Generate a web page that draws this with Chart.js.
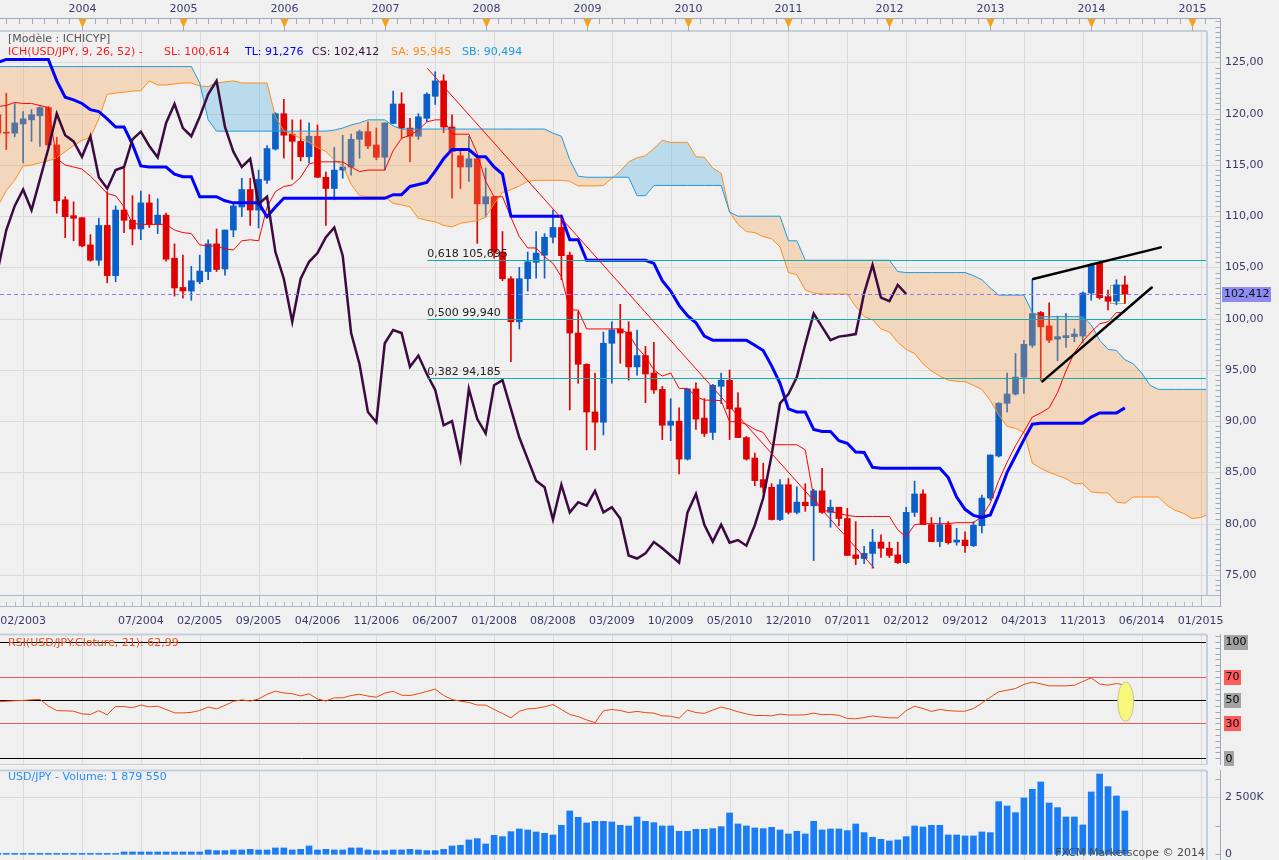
<!DOCTYPE html>
<html>
<head>
<meta charset="utf-8">
<title>USD/JPY - Ichimoku</title>
<script src="https://cdn.jsdelivr.net/npm/chart.js@4.4.1/dist/chart.umd.min.js"></script>
<style>
html,body{margin:0;padding:0;background:#f0f0f0;}
body{width:1279px;height:860px;position:relative;overflow:hidden;}
canvas{position:absolute;left:0;}
</style>
</head>
<body>
<canvas id="main" width="1279" height="630" style="top:0"></canvas>
<canvas id="rsi" width="1279" height="137" style="top:630px"></canvas>
<canvas id="vol" width="1279" height="93" style="top:767px"></canvas>
<script>
// ================= DATA =================
// month index: 0 = Jan 2003, first candle = Feb 2003 (index 1)
const firstMonth = 1;

const openP = [119.9,118.2,118.1,119.0,119.4,119.8,120.6,116.95,111.6,110.05,
109.85,107.2,105.7,109.1,104.2,110.6,109.6,108.75,111.3,109.2,
110.1,105.9,103.05,102.7,103.6,104.6,107.3,104.85,108.65,110.9,
112.6,110.6,113.5,116.55,120.0,118.0,117.3,115.8,117.8,113.8,
112.7,114.5,114.8,117.5,118.25,116.95,115.75,119.05,120.95,118.6,
117.8,119.55,121.7,123.2,118.7,115.9,114.8,115.6,111.2,111.9,
106.5,103.9,99.7,103.9,105.5,106.2,107.95,108.9,106.2,98.6,
95.55,90.9,89.9,97.6,99.0,98.7,95.3,96.4,94.7,93.1,
89.6,90.0,86.3,93.15,90.3,88.9,93.4,94.0,91.3,88.4,
86.4,84.3,83.55,80.4,83.8,81.1,82.1,81.75,83.2,81.1,
81.6,80.5,76.95,76.6,77.1,78.2,77.6,76.95,76.2,81.1,
82.9,79.9,78.25,79.9,78.2,78.4,77.85,79.8,82.5,86.6,
91.75,92.65,94.3,97.4,100.6,99.3,98.0,98.15,98.25,98.3,
102.5,105.4,102.15,101.7,103.3];

const highP = [121.4,122.0,121.0,120.2,120.4,120.7,120.7,117.7,111.9,111.4,
109.9,108.2,109.8,112.4,111.0,114.8,112.0,112.45,112.1,111.7,
110.3,107.3,106.2,105.1,106.2,107.7,108.75,108.65,111.3,113.7,
113.7,114.5,116.9,120.1,121.4,119.4,119.4,119.1,118.9,114.3,
116.7,117.9,118.0,118.4,119.2,118.6,119.1,122.2,122.05,119.55,
120.0,122.05,124.1,123.8,119.9,116.45,117.8,115.9,114.7,111.9,
108.5,104.1,105.0,106.5,108.5,108.3,110.6,110.1,106.5,100.7,
95.6,94.7,98.7,99.7,101.4,99.7,98.9,97.3,97.7,93.4,
92.2,91.3,93.15,93.75,92.2,93.6,94.7,95.0,92.8,88.5,
86.9,85.9,83.9,84.3,84.4,83.6,83.9,83.35,85.4,82.3,
81.6,81.5,80.2,77.8,79.45,78.9,78.2,78.2,81.6,84.15,
83.3,80.6,80.6,80.2,79.55,79.2,80.2,82.8,86.7,91.8,
94.7,96.6,97.9,103.8,100.7,101.55,100.25,100.5,99.0,102.6,
105.4,105.45,102.8,103.8,104.15];

const lowP = [116.7,116.5,117.75,115.2,117.3,116.8,116.8,110.3,107.9,107.6,
107.0,105.6,105.2,103.5,103.6,108.4,107.2,107.7,108.9,108.3,
105.6,102.2,102.0,101.8,103.4,103.8,104.6,104.25,108.0,109.95,
109.1,108.85,113.2,116.45,115.65,113.6,115.4,115.2,113.75,109.1,
111.6,113.7,114.0,115.65,116.6,115.5,114.5,119.0,117.6,115.3,
117.5,119.2,120.9,118.15,111.75,112.7,113.4,107.35,109.95,105.9,
103.7,95.8,99.0,102.7,103.95,103.95,107.4,103.8,91.1,93.7,
87.2,87.2,88.65,93.7,95.65,94.0,94.5,91.8,92.7,88.2,
88.1,84.85,86.2,89.2,88.5,88.2,91.7,88.2,88.4,86.2,
83.7,83.0,80.35,80.3,80.95,80.95,81.2,76.4,81.0,79.65,
79.8,76.9,76.0,76.1,75.65,76.7,76.7,76.1,76.1,80.7,
79.9,78.25,77.75,78.0,77.9,77.2,77.75,79.1,82.3,86.5,
90.9,92.55,92.7,97.2,93.95,97.65,95.9,97.2,97.75,97.65,
101.8,101.9,100.85,101.35,101.5];

const closeP = [118.1,118.1,119.1,119.5,119.9,120.6,116.95,111.5,109.95,109.8,
107.1,105.7,109.1,104.2,110.6,109.6,108.75,111.3,109.2,110.1,
105.8,103.0,102.7,103.7,104.65,107.3,104.8,108.65,111.0,112.6,
110.6,113.6,116.6,120.0,117.9,117.3,115.8,117.8,113.8,112.7,
114.5,114.8,117.5,118.25,116.85,115.75,119.1,120.95,118.6,117.8,
119.7,121.9,123.2,118.7,116.3,114.8,115.6,111.2,111.9,106.5,
103.9,99.7,103.9,105.55,106.4,107.95,108.9,106.15,98.6,95.55,
90.9,89.9,97.6,98.9,98.6,95.3,96.4,94.6,93.05,89.6,
90.0,86.3,93.15,90.2,88.8,93.5,94.0,91.2,88.4,86.3,
84.2,83.55,80.4,83.8,81.1,82.1,81.75,83.2,81.1,81.6,
80.5,76.9,76.6,77.1,78.2,77.6,76.9,76.2,81.1,82.9,
79.9,78.25,79.9,78.15,78.4,77.85,79.85,82.5,86.7,91.75,
92.65,94.3,97.5,100.5,99.2,97.9,98.25,98.35,98.5,102.5,
105.25,102.05,101.7,103.3,102.41];

// Tenkan (red) and Kijun (blue), one value per candle
const tenkan = [120.7,120.8,121.1,121.0,121.0,120.8,120.6,115.6,115.0,114.8,
114.6,113.9,113.1,112.2,112.0,110.9,109.3,109.2,109.2,109.2,
109.2,108.65,108.4,108.3,107.2,107.1,107.1,106.8,106.7,107.6,
107.7,107.6,110.9,112.4,112.9,113.05,113.8,115.1,115.3,115.3,
115.3,115.3,114.8,114.35,114.5,114.5,114.5,116.4,117.6,117.9,
118.4,119.2,119.4,119.4,118.0,118.0,118.0,116.1,113.4,111.9,
111.9,109.9,108.0,106.9,106.9,106.05,105.4,104.1,100.85,100.85,
99.0,99.0,99.0,99.0,99.0,98.5,97.2,96.3,95.0,94.4,
94.7,93.2,93.2,92.4,92.05,92.05,92.0,89.95,89.95,89.7,
89.2,88.9,87.7,87.7,87.7,87.7,87.2,82.6,81.3,81.2,
81.0,80.8,80.7,80.7,80.7,80.7,80.7,79.4,78.7,79.9,
80.0,80.0,80.0,80.0,80.1,80.1,80.1,80.7,82.0,84.2,
86.0,87.6,89.0,90.4,90.8,91.3,92.8,94.9,96.7,97.8,
98.7,99.5,99.7,100.6,100.6];

const kijun = [125.0,125.3,125.3,125.3,125.3,125.3,125.3,123.2,121.6,121.35,
121.0,120.4,120.2,119.5,118.7,118.7,117.0,114.9,114.8,114.8,
114.8,114.1,113.85,113.85,111.9,111.9,111.9,111.5,111.3,111.3,
111.3,111.3,109.95,110.9,111.75,111.75,111.75,111.75,111.75,111.75,
111.75,111.75,111.75,111.75,111.75,111.75,111.75,112.1,112.1,112.9,
113.1,113.3,114.4,115.6,116.5,116.5,116.5,115.8,115.8,114.8,
114.1,110.0,110.0,110.0,110.0,110.0,110.0,110.0,107.7,107.7,
105.7,105.7,105.7,105.7,105.7,105.7,105.7,105.7,105.4,103.7,
102.7,101.3,100.3,99.6,98.3,97.9,97.9,97.9,97.9,97.9,
97.4,96.9,95.4,93.7,91.2,90.9,90.9,89.2,89.0,89.0,
88.1,87.85,87.0,86.95,85.5,85.4,85.4,85.4,85.4,85.4,
85.4,85.4,85.4,84.5,82.6,81.4,80.8,80.6,80.85,82.8,
85.0,86.6,88.2,89.7,89.8,89.8,89.8,89.8,89.8,89.8,
90.4,90.8,90.8,90.8,91.3];

// Senkou spans as plotted (already shifted 26 months ahead), from Feb 2003 to Feb 2015
const senkouA = [111.0,112.5,113.5,114.9,115.0,115.2,115.4,115.7,116.3,116.9,
117.4,117.7,119.5,121.9,122.0,122.1,122.2,122.25,123.2,122.8,
122.8,122.9,123.0,123.0,122.7,122.65,123.0,123.1,123.2,123.0,
123.0,123.0,123.0,119.7,118.35,118.0,117.6,117.2,116.7,116.3,
115.5,114.9,113.1,112.0,111.9,111.9,111.9,111.25,111.1,110.9,
109.8,109.6,109.45,109.1,108.95,109.3,109.45,109.55,109.9,111.2,
112.3,112.6,112.95,113.4,113.5,113.5,113.5,113.5,113.4,112.95,
112.95,112.95,113.0,113.7,114.4,115.3,115.7,115.9,116.6,117.4,
117.2,117.2,117.2,115.8,115.75,114.7,114.2,110.4,109.2,108.5,
108.4,108.0,107.8,107.0,104.5,104.3,102.8,102.5,102.4,102.4,
102.4,102.4,101.2,100.2,99.9,99.0,98.7,97.7,97.0,96.6,
95.6,94.9,94.4,94.0,93.9,93.85,93.5,93.1,92.0,90.6,
89.5,89.3,88.9,85.9,85.4,85.0,84.7,84.4,83.9,83.9,
83.1,83.0,83.0,82.1,82.0,82.6,82.6,82.6,82.6,81.8,
81.3,81.0,80.5,80.6,80.9];

const senkouB = [124.6,124.6,124.6,124.6,124.6,124.6,124.6,124.6,124.6,124.6,
124.6,124.6,124.6,124.6,124.6,124.6,124.6,124.6,124.6,124.6,
124.6,124.6,124.6,124.6,123.0,119.4,118.3,118.3,118.3,118.3,
118.3,118.3,118.3,118.3,118.3,118.3,118.3,118.3,118.3,118.3,
118.4,118.6,118.9,119.1,119.4,119.4,119.4,118.8,118.5,118.5,
118.5,118.5,118.5,118.5,118.5,118.5,118.5,118.5,118.5,118.5,
118.5,118.5,118.5,118.5,118.5,118.5,118.1,117.8,115.5,113.9,
113.8,113.8,113.8,113.8,113.8,113.8,112.0,112.0,113.0,113.0,
113.0,113.0,113.0,113.0,113.0,113.0,113.0,110.4,110.0,110.0,
110.0,110.0,110.0,110.0,107.6,107.6,105.7,105.7,105.7,105.7,
105.7,105.7,105.7,105.7,105.7,105.7,105.7,104.6,104.5,104.5,
104.5,104.5,104.5,104.5,104.5,104.5,104.2,103.8,103.0,102.3,
102.3,102.3,102.3,100.6,100.2,100.2,100.2,100.2,100.2,100.2,
99.4,97.9,97.0,96.9,96.0,95.6,94.7,93.5,93.1,93.1,
93.1,93.1,93.1,93.1,93.1];

const chikouShift = 26;

// RSI(21) per candle
const rsi = [48.6,49,49.5,49.7,50.3,50.6,45,41,40.8,40.5,
38.2,37.7,41,37.4,44.6,44.5,43.5,45.7,44.3,44.8,
42,39.1,39,39.5,41.1,44,42.5,45.5,49,50.2,
49.2,51,55,57.7,56.2,55.5,53.6,55.4,51,49.3,
52,52,54,55,53.5,52.5,56,57.6,54.3,54,
55.5,57.5,59.5,54,50.5,49.1,48,45.8,45.7,42,
38.5,34.8,40.5,42.5,43,44.3,46.2,42,37.7,35.8,
33,30.6,40.8,42,41.1,39.3,40.3,39.3,38.8,36.5,
36.2,34.5,41.5,39.3,38.6,41.5,44,42.3,40,38.2,
36.8,36.8,36.5,38,37.2,37.2,37.4,38.8,37.5,37.7,
37,34.2,34,35,36.4,35.5,34.8,34.8,41,44.8,
42.8,40.3,42,41,40.5,40.5,42.8,47.5,52.5,57.2,
58.5,60,63.5,65.5,64,62.3,62.3,62.3,62.8,66,
69.2,63.8,62.9,64.3,63];

// Volume in thousands per candle
const volumeK = [40,40,40,40,40,40,40,40,40,40,
40,40,40,40,40,102,102,102,102,102,
102,102,102,102,102,190,161,161,190,190,
219,190,190,278,278,190,219,365,190,219,
190,190,278,278,190,161,161,190,190,219,
190,161,161,219,365,395,629,687,453,833,
775,994,1111,1067,980,921,848,1272,1901,1623,
1374,1447,1447,1418,1272,1243,1637,1447,1389,1243,
1243,1009,1009,1096,1096,1126,1213,1813,1330,1243,
1155,1126,1184,1067,892,1009,892,1447,1067,1111,
1111,1038,1330,950,746,658,585,629,775,1243,
1199,1272,1272,848,848,805,805,980,950,2310,
2120,1827,2471,2851,3173,2251,2047,1637,1637,1287,
2734,3523,2968,2558,1901];

// axis tick labels
const gridMonths = [4,11,18,25,32,39,46,53,60,67,74,81,88,95,102,109,116,123,130,137,144];
const bottomTickMonths = [4,18,25,32,39,46,53,60,67,74,81,88,95,102,109,116,123,130,137,144];
const bottomTickLabels = ['02/2003','07/2004','02/2005','09/2005','04/2006','11/2006','06/2007','01/2008','08/2008','03/2009','10/2009','05/2010','12/2010','07/2011','02/2012','09/2012','04/2013','11/2013','06/2014','01/2015'];
const yearMonths = [11,23,35,47,59,71,83,95,107,119,131,143];
const yearLabels = ['2004','2005','2006','2007','2008','2009','2010','2011','2012','2013','2014','2015'];
const priceTicks = [75,80,85,90,95,100,105,110,115,120,125];
const priceTickLabels = ['75,00','80,00','85,00','90,00','95,00','100,00','105,00','110,00','115,00','120,00','125,00'];

// drawings on the price chart
const fibStartMonth = 52.06;
const fibLevels = [105.695, 99.94, 94.185];
const fibNames = ['0,618 105,695', '0,500 99,940', '0,382 94,185'];
const currentPrice = 102.412;
const currentPriceLabel = '102,412';
const diagLine = [52.06, 124.43, 105.2, 75.65];
const trendLines = [[124.1, 103.87, 139.27, 106.96], [125.2, 93.88, 138.2, 103.04]];
const selectionBox = [133.2, 135.0, 103.3, 101.55];
const rsiLevels = [100, 70, 50, 30, 0];
const rsiMark = [135.1, 48.7, 0.95, 17];

// ================= LAYOUT / STYLE =================
const X_MIN = 1.25, X_MAX = 144.65;
const AXIS_X = 1220.5, FRAME_X = 1207;
const FONT = '11px "DejaVu Sans", Verdana, sans-serif';
const AXIS_TXT = '#3a3a6e';
const FRAME = '#c5cedb', AXIS_LINE = '#a0a9b8';
const UP = '#0a5fc8', DOWN = '#e00000';

function seg(ctx, x1, y1, x2, y2) { ctx.beginPath(); ctx.moveTo(x1, y1); ctx.lineTo(x2, y2); ctx.stroke(); }
const mIdx = k => firstMonth + k;

const common = {
  responsive: false,
  animation: false,
  events: [],
  plugins: { legend: { display: false }, tooltip: { enabled: false } }
};

function drawVGrid(chart, top) {
  const { ctx, chartArea: a, scales: { x: xs } } = chart;
  ctx.strokeStyle = '#dadada'; ctx.lineWidth = 1;
  gridMonths.forEach(m => { const x = Math.round(xs.getPixelForValue(m)) + 0.5; seg(ctx, x, top, x, a.bottom); });
}
function drawFrame(ctx, top, bottom) {
  ctx.strokeStyle = FRAME; ctx.lineWidth = 2;
  seg(ctx, 0, top, FRAME_X, top);
  seg(ctx, FRAME_X, top, FRAME_X, bottom);
  ctx.lineWidth = 1;
}

// ================= MAIN CHART =================
const upFlags = closeP.map((c, k) => c >= openP[k]);
const candleColors = upFlags.map(u => u ? UP : DOWN);

const mainDecor = {
  id: 'mainDecor',
  beforeDatasetsDraw(chart) {
    const { ctx, chartArea: a, scales: { x: xs, y: ys } } = chart;
    ctx.save();
    drawVGrid(chart, 31);
    priceTicks.forEach(v => { const y = Math.round(ys.getPixelForValue(v)) + 0.5; seg(ctx, a.left, y, AXIS_X, y); });
    const X1 = xs.getPixelForValue(selectionBox[0]), X2 = xs.getPixelForValue(selectionBox[1]);
    const Y1 = ys.getPixelForValue(selectionBox[2]), Y2 = ys.getPixelForValue(selectionBox[3]);
    ctx.fillStyle = '#fbfbcc'; ctx.fillRect(X1, Y1, X2 - X1, Y2 - Y1);
    ctx.strokeStyle = '#a8a8a8';
    ctx.strokeRect(Math.round(X1) + 0.5, Math.round(Y1) + 0.5, Math.round(X2 - X1), Math.round(Y2 - Y1));
    ctx.restore();
  },
  afterDatasetsDraw(chart) {
    const { ctx, chartArea: a, scales: { x: xs, y: ys } } = chart;
    const X = v => xs.getPixelForValue(v), Y = v => ys.getPixelForValue(v);
    ctx.save();
    ctx.beginPath(); ctx.rect(a.left, a.top, a.right - a.left, a.bottom - a.top); ctx.clip();
    ctx.lineWidth = 1;
    ctx.strokeStyle = '#8a7cf0'; ctx.setLineDash([4, 3]);
    const yp = Math.round(Y(currentPrice)) + 0.5; seg(ctx, a.left, yp, a.right, yp);
    ctx.setLineDash([]);
    ctx.font = FONT; ctx.textAlign = 'left'; ctx.textBaseline = 'alphabetic';
    fibLevels.forEach((lv, k) => {
      const y = Math.round(Y(lv)) + 0.5;
      ctx.strokeStyle = '#1aa9a9'; seg(ctx, X(fibStartMonth), y, a.right, y);
      ctx.fillStyle = '#222'; ctx.fillText(fibNames[k], X(fibStartMonth), y - 4);
    });
    ctx.strokeStyle = '#ff0000'; ctx.lineWidth = 1;
    seg(ctx, X(diagLine[0]), Y(diagLine[1]), X(diagLine[2]), Y(diagLine[3]));
    ctx.strokeStyle = '#000'; ctx.lineWidth = 2.5; ctx.lineCap = 'round';
    trendLines.forEach(t => seg(ctx, X(t[0]), Y(t[1]), X(t[2]), Y(t[3])));
    ctx.restore();
  },
  afterDraw(chart) {
    const { ctx, chartArea: a, scales: { x: xs, y: ys } } = chart;
    const X = v => xs.getPixelForValue(v), Y = v => ys.getPixelForValue(v);
    ctx.save();
    ctx.font = FONT; ctx.lineWidth = 1;
    drawFrame(ctx, 31, 595);
    // top time axis
    ctx.strokeStyle = AXIS_LINE;
    seg(ctx, 0, 18.5, AXIS_X, 18.5);
    for (let m = yearMonths[0] - 9; m <= X_MAX; m += 1.5) {
      const x = Math.round(X(m)) + 0.5; if (x < 0) continue;
      seg(ctx, x, 19, x, 24);
    }
    ctx.textAlign = 'center'; ctx.textBaseline = 'middle';
    yearMonths.forEach((m, k) => {
      const x = Math.round(X(m)) + 0.5;
      ctx.strokeStyle = AXIS_LINE; seg(ctx, x, 19, x, 31);
      ctx.fillStyle = '#f5a21c';
      ctx.beginPath(); ctx.moveTo(x - 4, 19); ctx.lineTo(x + 4, 19); ctx.lineTo(x, 28); ctx.closePath(); ctx.fill();
      ctx.fillStyle = AXIS_TXT; ctx.fillText(yearLabels[k], x, 9);
    });
    // bottom time axis
    ctx.strokeStyle = '#b0b9c6';
    seg(ctx, 0, 595.5, AXIS_X, 595.5);
    seg(ctx, 0, 606.5, AXIS_X, 606.5);
    for (let m = 1; m <= 144; m++) { const x = Math.round(X(m)) + 0.5; seg(ctx, x, 602, x, 606); }
    gridMonths.forEach(m => { const x = Math.round(X(m)) + 0.5; seg(ctx, x, 596, x, 606); });
    ctx.fillStyle = AXIS_TXT;
    bottomTickMonths.forEach((m, k) => {
      const w = ctx.measureText(bottomTickLabels[k]).width;
      ctx.fillText(bottomTickLabels[k], Math.max(X(m), w / 2), 621);
    });
    // right price axis (ticks point inward)
    ctx.strokeStyle = AXIS_LINE;
    seg(ctx, AXIS_X, 18, AXIS_X, 607);
    for (let v = 73.5; v <= 129; v += 0.5) {
      const y = Math.round(Y(v)) + 0.5;
      if (v % 5 !== 0) seg(ctx, AXIS_X - 5, y, AXIS_X, y);
    }
    ctx.textAlign = 'left'; ctx.fillStyle = AXIS_TXT;
    priceTicks.forEach((v, k) => ctx.fillText(priceTickLabels[k], 1225, Y(v)));
    const yp = Y(currentPrice);
    ctx.fillStyle = '#8c8cf2'; ctx.fillRect(1222, Math.round(yp) - 7, 49, 15);
    ctx.fillStyle = '#111'; ctx.fillText(currentPriceLabel, 1224, yp + 0.5);
    // header
    ctx.textBaseline = 'middle';
    ctx.fillStyle = '#555'; ctx.fillText('[Modèle : ICHICYP]', 8, 39);
    const hdr = [['ICH(USD/JPY, 9, 26, 52) -', '#ff1a1a', 8], ['SL: 100,614', '#ff1a1a', 164],
                 ['TL: 91,276', '#0000ff', 245], ['CS: 102,412', '#3c0a40', 312],
                 ['SA: 95,945', '#ff8c1a', 391], ['SB: 90,494', '#1e9be0', 462]];
    hdr.forEach(h => { ctx.fillStyle = h[1]; ctx.fillText(h[0], h[2], 52); });
    ctx.strokeStyle = '#0000ff'; ctx.lineWidth = 2; seg(ctx, 12, 60, 49, 60);
    ctx.restore();
  }
};

new Chart(document.getElementById('main'), {
  type: 'bar',
  data: {
    datasets: [
      { type: 'bar', label: 'wick', order: 10, grouped: false, barThickness: 1,
        data: highP.map((h, k) => ({ x: mIdx(k), y: [lowP[k], h] })),
        backgroundColor: candleColors, borderWidth: 0 },
      { type: 'bar', label: 'body', order: 9, grouped: false, barThickness: 6, minBarLength: 1,
        data: openP.map((o, k) => ({ x: mIdx(k), y: [o, closeP[k]] })),
        backgroundColor: candleColors, borderWidth: 0 },
      { type: 'line', label: 'SA', order: 5,
        data: senkouA.map((v, k) => ({ x: mIdx(k), y: v })),
        borderColor: '#ff8c1a', borderWidth: 1, pointRadius: 0, tension: 0,
        fill: { target: '+1', above: 'rgba(73,173,223,0.32)', below: 'rgba(247,163,80,0.32)' } },
      { type: 'line', label: 'SB', order: 4,
        data: senkouB.map((v, k) => ({ x: mIdx(k), y: v })),
        borderColor: '#1e9be0', borderWidth: 1, pointRadius: 0, tension: 0, fill: false },
      { type: 'line', label: 'Tenkan', order: 3,
        data: tenkan.map((v, k) => ({ x: mIdx(k), y: v })),
        borderColor: '#ff0000', borderWidth: 1, pointRadius: 0, tension: 0, fill: false },
      { type: 'line', label: 'Kijun', order: 2,
        data: kijun.map((v, k) => ({ x: mIdx(k), y: v })),
        borderColor: '#0000ff', borderWidth: 3, pointRadius: 0, tension: 0, fill: false },
      { type: 'line', label: 'Chikou', order: 1,
        data: closeP.slice(chikouShift).map((v, k) => ({ x: mIdx(k), y: v })),
        borderColor: '#3c0a40', borderWidth: 2.5, pointRadius: 0, tension: 0, fill: false }
    ]
  },
  options: Object.assign({}, common, {
    layout: { padding: { top: 19, right: 73, bottom: 35, left: 0 } },
    scales: {
      x: { type: 'linear', min: X_MIN, max: X_MAX, offset: false, display: false },
      y: { type: 'linear', min: 73.04, max: 129.24, display: false }
    }
  }),
  plugins: [mainDecor]
});

// ================= RSI =================
const rsiDecor = {
  id: 'rsiDecor',
  beforeDatasetsDraw(chart) {
    const { ctx, chartArea: a, scales: { y: ys } } = chart;
    ctx.save();
    drawVGrid(chart, a.top);
    rsiLevels.forEach(v => {
      const y = Math.round(ys.getPixelForValue(v)) + 0.5;
      ctx.strokeStyle = (v === 70 || v === 30) ? '#ee5a5a' : '#000';
      seg(ctx, a.left, y, a.right, y);
    });
    ctx.restore();
  },
  afterDraw(chart) {
    const { ctx, chartArea: a, scales: { x: xs, y: ys } } = chart;
    ctx.save();
    const cx = xs.getPixelForValue(rsiMark[0]), cy = ys.getPixelForValue(rsiMark[1]);
    const rx = Math.abs(xs.getPixelForValue(rsiMark[0] + rsiMark[2]) - cx);
    const ry = Math.abs(ys.getPixelForValue(rsiMark[1] + rsiMark[3]) - cy);
    ctx.beginPath(); ctx.ellipse(cx, cy, rx, ry, 0, 0, Math.PI * 2);
    ctx.fillStyle = '#f7f77c'; ctx.fill(); ctx.strokeStyle = '#c4c4a0'; ctx.lineWidth = 1; ctx.stroke();
    drawFrame(ctx, 4.5, 134.5);
    ctx.strokeStyle = FRAME; seg(ctx, 0, 134.5, FRAME_X, 134.5);
    ctx.strokeStyle = AXIS_LINE;
    seg(ctx, AXIS_X, 4, AXIS_X, 135);
    for (let v = 0; v <= 105; v += 5) { const y = Math.round(ys.getPixelForValue(v)) + 0.5; seg(ctx, AXIS_X - 5, y, AXIS_X, y); }
    ctx.font = FONT; ctx.textBaseline = 'middle'; ctx.textAlign = 'left';
    rsiLevels.forEach(v => {
      const y = ys.getPixelForValue(v), t = String(v), w = ctx.measureText(t).width;
      ctx.fillStyle = (v === 70 || v === 30) ? '#ff5b5b' : '#a3a3a3';
      ctx.fillRect(1224, Math.round(y) - 7, w + 3, 15);
      ctx.fillStyle = '#000'; ctx.fillText(t, 1225.5, y + 0.5);
    });
    ctx.fillStyle = '#e8501a';
    ctx.fillText('RSI(USD/JPY.Cloture, 21): 62,99', 8, 13);
    ctx.restore();
  }
};

new Chart(document.getElementById('rsi'), {
  type: 'line',
  data: { datasets: [{ data: rsi.map((v, k) => ({ x: mIdx(k), y: v })), borderColor: '#e84a10', borderWidth: 1, pointRadius: 0, tension: 0, fill: false }] },
  options: Object.assign({}, common, {
    layout: { padding: { top: 5, right: 73, bottom: 2, left: 0 } },
    scales: {
      x: { type: 'linear', min: X_MIN, max: X_MAX, display: false },
      y: { type: 'linear', min: -5.76, max: 106.0, display: false }
    }
  }),
  plugins: [rsiDecor]
});

// ================= VOLUME =================
const volDecor = {
  id: 'volDecor',
  beforeDatasetsDraw(chart) {
    const { ctx, chartArea: a, scales: { y: ys } } = chart;
    ctx.save();
    drawVGrid(chart, a.top);
    ctx.strokeStyle = '#d8d8d8';
    const y = Math.round(ys.getPixelForValue(2500)) + 0.5; seg(ctx, a.left, y, AXIS_X, y);
    ctx.restore();
  },
  afterDraw(chart) {
    const { ctx, chartArea: a, scales: { y: ys } } = chart;
    ctx.save();
    drawFrame(ctx, 3.5, 93);
    ctx.strokeStyle = AXIS_LINE;
    seg(ctx, AXIS_X, 3, AXIS_X, 93);
    [0, 1250, 3300].forEach(v => { const y = Math.round(ys.getPixelForValue(v)) + 0.5; seg(ctx, AXIS_X - 5, y, AXIS_X, y); });
    ctx.font = FONT; ctx.textBaseline = 'middle'; ctx.textAlign = 'left';
    ctx.fillStyle = AXIS_TXT;
    ctx.fillText('2 500K', 1225, ys.getPixelForValue(2500));
    ctx.fillText('0', 1225, ys.getPixelForValue(0));
    ctx.fillStyle = '#2a8cff';
    ctx.fillText('USD/JPY - Volume: 1 879 550', 8, 10);
    ctx.fillStyle = '#4a4a4a'; ctx.textAlign = 'right';
    ctx.fillText('FXCM Marketscope \u00A9 2014', 1205, 86);
    ctx.restore();
  }
};

new Chart(document.getElementById('vol'), {
  type: 'bar',
  data: { datasets: [{ data: volumeK.map((v, k) => ({ x: mIdx(k), y: v })), backgroundColor: '#1a7df5', barThickness: 6, borderWidth: 0, grouped: false }] },
  options: Object.assign({}, common, {
    layout: { padding: { top: 3, right: 73, bottom: 0, left: 0 } },
    scales: {
      x: { type: 'linear', min: X_MIN, max: X_MAX, offset: false, display: false },
      y: { type: 'linear', min: -250, max: 3697, display: false }
    }
  }),
  plugins: [volDecor]
});
</script>
</body>
</html>
